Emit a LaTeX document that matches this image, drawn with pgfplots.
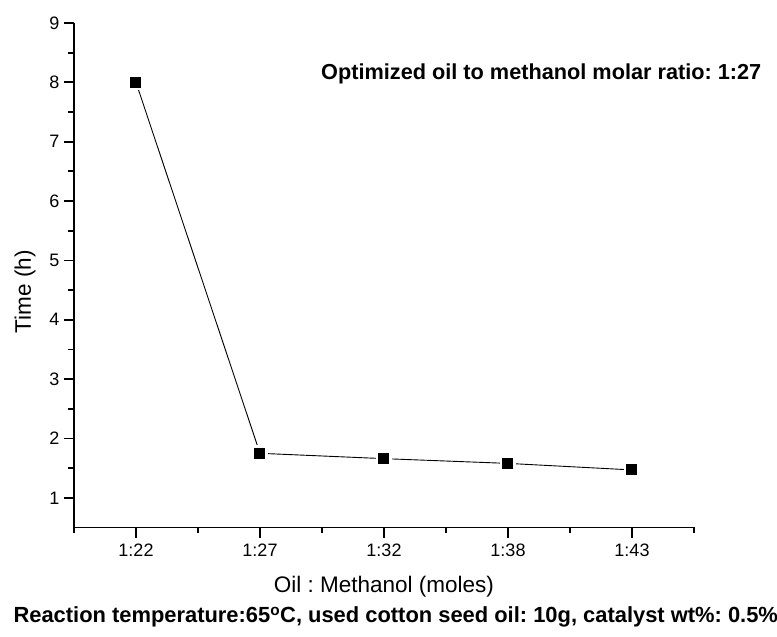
\documentclass[border=0pt]{standalone}
\usepackage{pgfplots}
\pgfplotsset{compat=1.18}
\usepackage{fontspec}
\setmainfont{Liberation Sans}
\frenchspacing

\begin{document}
\begin{tikzpicture}
% fixed page frame around the axis rectangle (axis corner at the origin)
\useasboundingbox (-74pt,-109.5pt) rectangle (703pt,527.5pt);
\begin{axis}[
  at={(0,0)}, anchor=south west,
  scale only axis,
  width=620pt, height=504.5pt,
  xmin=-0.5, xmax=4.5,
  ymin=0.5, ymax=9,
  axis x line=bottom, axis y line=left,
  axis line style={-, line width=1.8pt},
  tick align=outside,
  major tick length=10pt, minor tick length=5.5pt,
  every tick/.style={black, line width=1.8pt},
  xtick={0,1,2,3,4},
  xticklabels={1:22,1:27,1:32,1:38,1:43},
  minor xtick={-0.5,0.5,1.5,2.5,3.5,4.5},
  ytick={1,2,...,9},
  minor ytick={1.5,2.5,...,8.5},
  /pgf/number format/assume math mode=true,
  ticklabel style={font=\fontsize{18}{21}\selectfont},
  xticklabel style={yshift=-3pt},
  yticklabel style={xshift=-1pt},
  xlabel={Oil : Methanol (moles)},
  ylabel={Time (h)},
  label style={font=\fontsize{22.5}{26}\selectfont},
  xlabel style={at={(axis description cs:0.5,-0.117)}, anchor=center},
  ylabel style={at={(axis description cs:-0.079,0.467)}, anchor=center},
  clip=false,
]
\addplot[black, line width=0.9pt, mark=square*, mark size=6.75pt,
  mark options={fill=black, draw=white, line width=2.5pt}]
  coordinates {
    (0,8.00)
    (1,1.75)
    (2,1.66)
    (3,1.58)
    (4,1.47)
  };
\node[anchor=west, font=\bfseries\fontsize{21.7}{25}\selectfont]
  at (rel axis cs:0.393,0.899) {Optimized oil to methanol molar ratio: 1:27};
\end{axis}
\node[anchor=west, font=\bfseries\fontsize{21.9}{25}\selectfont]
  at (-64pt,-89.5pt) {Reaction temperature:65\textsuperscript{o}C, used cotton seed oil: 10g, catalyst wt\%: 0.5\%};
\end{tikzpicture}
\end{document}
